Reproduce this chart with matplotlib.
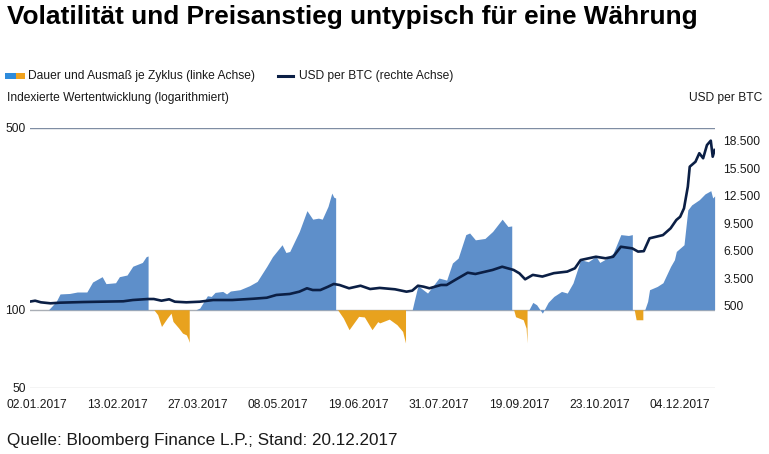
import matplotlib
matplotlib.use("Agg")
import matplotlib.pyplot as plt
from matplotlib.patches import Rectangle
from matplotlib.lines import Line2D

plt.rcParams['font.family'] = ['Liberation Sans', 'DejaVu Sans']

# ---------------- data ----------------
title = "Volatilität und Preisanstieg untypisch für eine Währung"
legend_area = "Dauer und Ausmaß je Zyklus (linke Achse)"
legend_line = "USD per BTC (rechte Achse)"
left_label = "Indexierte Wertentwicklung (logarithmiert)"
right_label = "USD per BTC"
source = "Quelle: Bloomberg Finance L.P.; Stand: 20.12.2017"

# x positions: days after 02.01.2017 (chart's own spacing)
tick_days = [0, 42, 84, 126, 168, 210, 252, 294, 336]
tick_labels = ["02.01.2017", "13.02.2017", "27.03.2017", "08.05.2017", "19.06.2017",
               "31.07.2017", "19.09.2017", "23.10.2017", "04.12.2017"]

left_ticks = [50, 100, 500]
right_ticks = [500, 3500, 6500, 9500, 12500, 15500, 18500]

# cycles: indexed value (start = 100)
up1_days = [6, 10, 12, 17, 21, 26, 29, 34, 36, 41, 43, 47, 50, 55, 57, 58]
up1_vals = [100, 107.6, 115, 115.5, 117, 117, 127.8, 134, 126, 127, 134, 136, 147, 152, 160, 161]

down1_days = [61, 63, 65, 68, 70, 71, 74, 76, 78, 79, 79.5]
down1_vals = [100, 95.7, 86.2, 92.9, 97, 90.2, 85, 81.3, 80, 77, 74.9]

up2_days = [83, 85, 89, 91, 93, 97, 99, 101, 106, 111, 115, 120, 123, 128, 130, 132,
            137, 141, 144, 147, 149, 152, 154, 155, 156]
up2_vals = [100, 101.5, 113.2, 112.5, 116.6, 117.6, 115, 118, 119.4, 123.7, 128.5, 146.8,
            160, 177.8, 166, 167.5, 200, 240.5, 223, 225, 223, 249.7, 281, 271, 268.9]

down2_days = [157, 160, 163, 168, 171, 175, 178, 179, 184, 188, 191, 192.5]
down2_vals = [100, 92.9, 83.8, 94.3, 93.8, 83.8, 90, 89, 92, 87.6, 82.5, 74.5]

up3_days = [196, 197, 199, 204, 210, 214, 217, 220, 224, 226, 229, 234, 238, 243, 246, 248]
up3_vals = [100, 107.6, 123.7, 115.9, 132.4, 130, 151.2, 158, 194.5, 197.3, 185.7, 188,
            200, 223, 209, 210]

down3_days = [249, 250, 254, 255.5, 256]
down3_vals = [100, 94, 91.5, 85, 74.5]

up4_days = [257, 259, 261, 264, 267, 270, 274, 277, 280, 284, 288, 292, 294, 298, 301,
            305, 309, 311]
up4_vals = [100, 106.7, 104.5, 97, 106.7, 112.5, 117.6, 115.9, 126.7, 155.7, 153, 160.3,
            152, 158, 165, 194.5, 193, 194.5]

down4_days = [312, 313, 316.5]
down4_vals = [100, 91.5, 91.5]

up5_days = [317.5, 319, 320, 324, 327, 331, 333, 334, 338, 340, 342, 346, 349, 352, 353, 354]
up5_vals = [100, 107.6, 119.4, 122.9, 127, 146.8, 155.7, 167.6, 177.8, 242, 253, 265, 279,
            287, 269, 274]

# BTC price in USD
btc_days = [-4, -1, 2, 7, 12, 24, 33, 45, 50, 58, 61, 65, 69, 72, 78, 85, 92, 102, 113,
            120, 125, 132, 137, 141, 144, 148, 152, 155, 158, 163, 169, 174, 179, 187,
            193, 196, 199, 202, 205, 211, 214, 219, 225, 229, 238, 243, 249, 252, 255,
            259, 264, 270, 277, 281, 284, 292, 297, 301, 305, 311, 314, 317, 320, 327,
            331, 334, 336, 338, 340, 341, 344, 346, 348, 350, 352, 353, 354]
btc_vals = [940, 1045, 870, 760, 830, 900, 936, 980, 1120, 1230, 1230, 1045, 1200, 936,
            870, 936, 1120, 1120, 1260, 1370, 1670, 1780, 2030, 2400, 2210, 2210, 2570,
            2870, 2760, 2400, 2680, 2320, 2440, 2290, 2030, 2140, 2680, 2570, 2400, 2760,
            2760, 3380, 4100, 3960, 4400, 4750, 4400, 4030, 3380, 3860, 3680, 4050, 4220,
            4580, 5480, 5840, 5670, 5840, 6930, 6750, 6400, 6450, 7850, 8200, 8940, 9850,
            10200, 11120, 13480, 15660, 16200, 17130, 16580, 18020, 18500, 16750, 17480]

# ---------------- styling ----------------
BLUE = "#5E8FCA"
ORANGE = "#E8A21E"
LEG_BLUE = "#2E8BDB"
LEG_ORANGE = "#F0A21E"
NAVY = "#0B1F45"
TXT = "#1A1A1A"
FS = 8.65

W, H = 769, 454
fig = plt.figure(figsize=(W / 100, H / 100), dpi=100)

def fx(px):
    return px / W

def fy(py):
    return 1 - py / H

ax_l, ax_r, ax_t, ax_b = 30, 715, 128, 388
ax = fig.add_axes([fx(ax_l), fy(ax_b), fx(ax_r) - fx(ax_l), fy(ax_t) - fy(ax_b)])
ax.set_yscale('log')
ax.set_ylim(50, 500)
ax.set_xlim(-3.7, 354.2)

ups = [(up1_days, up1_vals), (up2_days, up2_vals), (up3_days, up3_vals),
       (up4_days, up4_vals), (up5_days, up5_vals)]
downs = [(down1_days, down1_vals), (down2_days, down2_vals), (down3_days, down3_vals),
         (down4_days, down4_vals)]
for d, v in ups:
    ax.fill_between(d, v, 100, color=BLUE, lw=0, zorder=2)
for d, v in downs:
    ax.fill_between(d, v, 100, color=ORANGE, lw=0, zorder=2)

ax.set_yticks(left_ticks)
ax.set_yticklabels([str(t) for t in left_ticks])
ax.yaxis.set_minor_locator(matplotlib.ticker.NullLocator())
ax.tick_params(axis='y', length=0, pad=3, labelsize=FS, labelcolor=TXT)
ax.set_xticks(tick_days)
ax.set_xticklabels(tick_labels)
ax.tick_params(axis='x', length=0, pad=8, labelsize=FS, labelcolor=TXT)
for s in ax.spines.values():
    s.set_visible(False)
grid_cols = {50: "#C8C8C8", 100: "#A9AEB5", 500: "#7F8DA3"}
for t in left_ticks:
    ax.axhline(t, color=grid_cols[t], lw=1.0, zorder=1)

ax2 = ax.twinx()
ax2.set_ylim(-8475, 19880)
ax2.plot(btc_days, btc_vals, color=NAVY, lw=1.9, zorder=3, solid_joinstyle='round')
ax2.set_yticks(right_ticks)
ax2.set_yticklabels([f"{t:,}".replace(",", ".") for t in right_ticks])
ax2.tick_params(axis='y', length=0, pad=6, labelsize=FS, labelcolor=TXT)
for s in ax2.spines.values():
    s.set_visible(False)

# ---------------- texts ----------------
fig.text(fx(7), fy(17), title, fontsize=18.9, fontweight='bold', color='black',
         ha='left', va='center')

fig.patches.append(Rectangle((fx(5), fy(79)), fx(11), 6 / H, transform=fig.transFigure,
                             color=LEG_BLUE, lw=0))
fig.patches.append(Rectangle((fx(16), fy(79)), fx(9), 6 / H, transform=fig.transFigure,
                             color=LEG_ORANGE, lw=0))
fig.text(fx(28), fy(76), legend_area, fontsize=FS, color=TXT, ha='left', va='center')
fig.lines.append(Line2D([fx(278), fx(293)], [fy(76), fy(76)], transform=fig.transFigure,
                        color=NAVY, lw=2.2))
fig.text(fx(299), fy(76), legend_line, fontsize=FS, color=TXT, ha='left', va='center')

fig.text(fx(7), fy(98), left_label, fontsize=FS, color=TXT, ha='left', va='center')
fig.text(fx(762), fy(98), right_label, fontsize=FS, color=TXT, ha='right', va='center')

fig.text(fx(7), fy(441), source, fontsize=12.3, color=TXT, ha='left', va='center')

fig.savefig("out.png", dpi=100)
